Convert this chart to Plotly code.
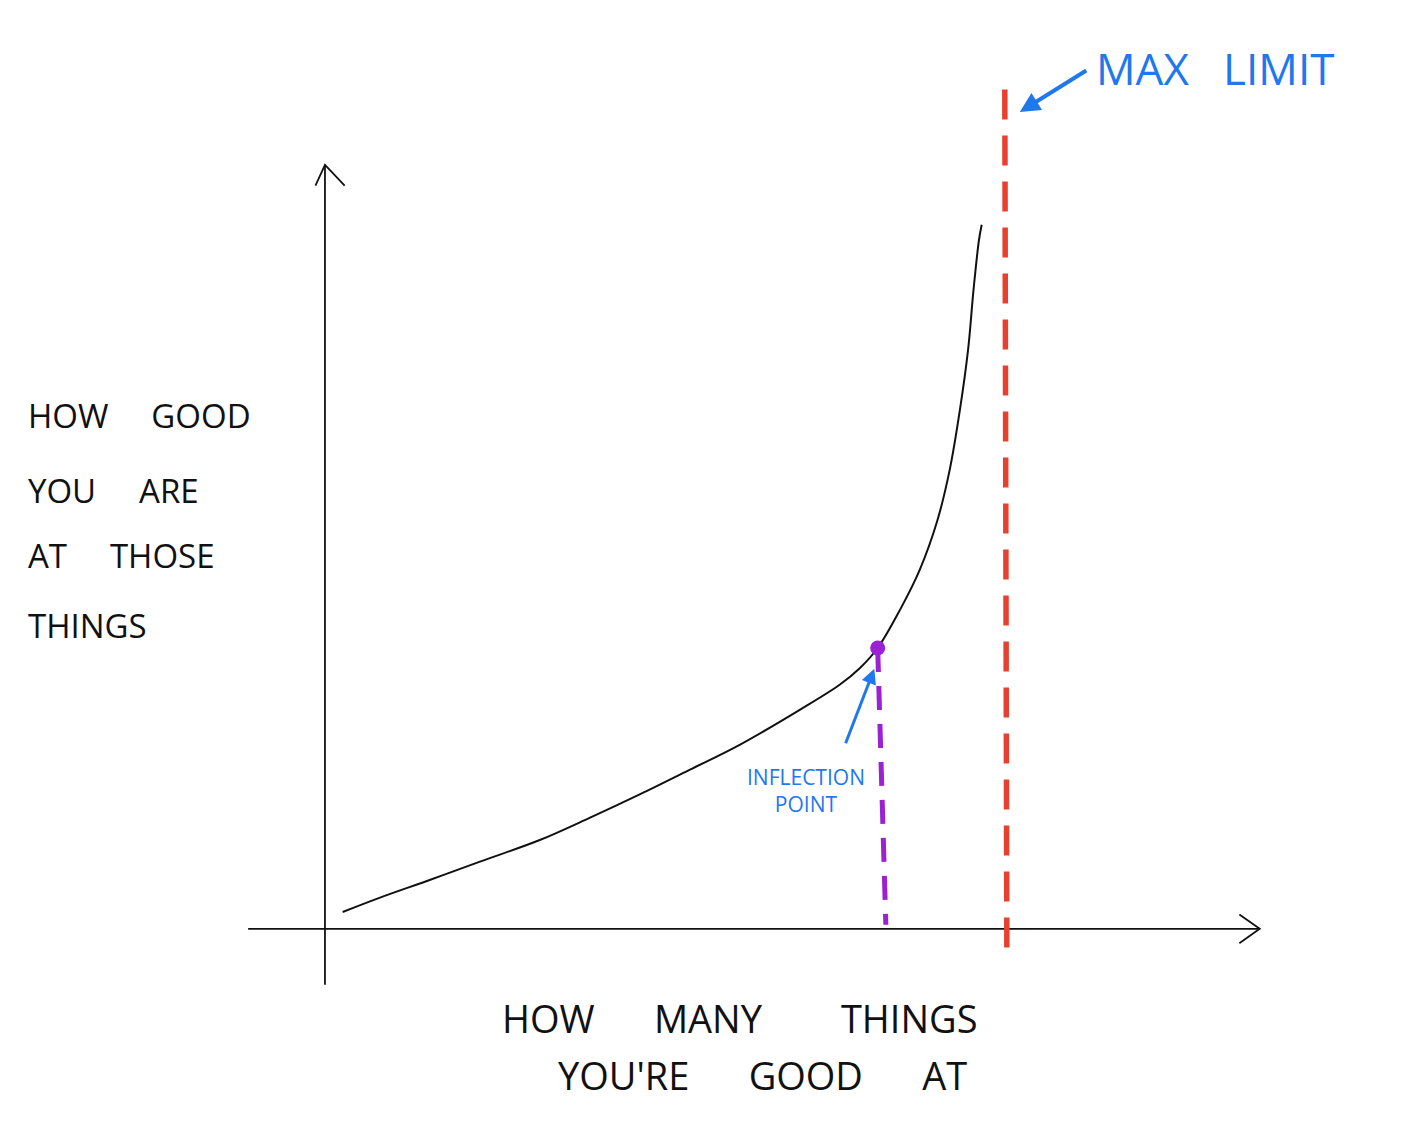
import plotly.graph_objects as go

# ---- data (x = things you're good at, y = how good) ----
curve_x = [0.26, 0.81, 1.54, 2.28, 3.16, 3.90, 4.63, 5.37, 6.10, 6.99, 7.57, 7.87, 8.13,
           8.46, 8.75, 9.01, 9.19, 9.34, 9.46, 9.54, 9.62, 9.66]
curve_y = [0.21, 0.39, 0.61, 0.84, 1.11, 1.39, 1.68, 1.99, 2.30, 2.74, 3.05, 3.26, 3.51,
           3.99, 4.49, 5.11, 5.74, 6.49, 7.24, 7.99, 8.61, 8.80]
inflection_x = [8.13]
inflection_y = [3.51]
inflection_drop_x = [8.13, 8.25]
inflection_drop_y = [3.51, 0.05]
max_limit_x = [10.00, 10.03]
max_limit_y = [10.49, -0.26]

x_axis_extent = [-1.13, 13.75]
y_axis_extent = [-0.70, 9.55]

y_label_lines = ["HOW     GOOD", "YOU     ARE", "AT     THOSE", "THINGS"]
x_label_lines = ["HOW      MANY        THINGS", "YOU'RE      GOOD      AT"]

BLUE = "#1f78ee"
RED = "#e8402e"
PURPLE = "#9b22d4"
INK = "#111111"
FONT = "Open Sans"

W, H = 1410, 1140
X_RANGE = [-4.78, 15.96]
Y_RANGE = [-2.64, 11.61]

fig = go.Figure()

# axes (hand-drawn style)
fig.add_trace(go.Scatter(x=x_axis_extent, y=[0, 0], mode="lines",
                         line=dict(color=INK, width=1.8), hoverinfo="skip"))
fig.add_trace(go.Scatter(x=[0, 0], y=y_axis_extent, mode="lines",
                         line=dict(color=INK, width=1.8), hoverinfo="skip"))
# chevron arrowheads
ax_end = x_axis_extent[1]
fig.add_trace(go.Scatter(x=[ax_end - 0.30, ax_end, ax_end - 0.30], y=[0.18, 0, -0.18],
                         mode="lines", line=dict(color=INK, width=1.8), hoverinfo="skip"))
ay_end = y_axis_extent[1]
fig.add_trace(go.Scatter(x=[-0.14, 0, 0.29], y=[ay_end - 0.26, ay_end, ay_end - 0.26],
                         mode="lines", line=dict(color=INK, width=1.8), hoverinfo="skip"))

# max limit (red dashed)
fig.add_trace(go.Scatter(x=max_limit_x, y=max_limit_y, mode="lines",
                         line=dict(color=RED, width=5.5, dash="30px,16px"), hoverinfo="skip"))
# inflection drop line (purple dashed)
fig.add_trace(go.Scatter(x=inflection_drop_x, y=inflection_drop_y, mode="lines",
                         line=dict(color=PURPLE, width=5, dash="24px,14px"), hoverinfo="skip"))

# curve
fig.add_trace(go.Scatter(x=curve_x, y=curve_y, mode="lines",
                         line=dict(color=INK, width=2, shape="spline", smoothing=1.0),
                         hoverinfo="skip"))
# inflection point
fig.add_trace(go.Scatter(x=inflection_x, y=inflection_y, mode="markers",
                         marker=dict(color=PURPLE, size=15), hoverinfo="skip"))

annotations = []
# arrow to max limit
annotations.append(dict(x=10.22, y=10.21, ax=11.22, ay=10.74, xref="x", yref="y",
                        axref="x", ayref="y", text="", showarrow=True,
                        arrowhead=2, arrowsize=1.0, arrowwidth=4, arrowcolor=BLUE))
# arrow to inflection point
annotations.append(dict(x=8.08, y=3.25, ax=7.65, ay=2.30, xref="x", yref="y",
                        axref="x", ayref="y", text="", showarrow=True,
                        arrowhead=2, arrowsize=1.0, arrowwidth=3, arrowcolor=BLUE))
annotations.append(dict(x=1215 / W, y=1 - 68 / H, xref="paper", yref="paper",
                        xanchor="center", yanchor="middle",
                        text="MAX   LIMIT", showarrow=False,
                        font=dict(family=FONT, size=44, color=BLUE)))
annotations.append(dict(x=806 / W, y=1 - 790 / H, xref="paper", yref="paper",
                        xanchor="center", yanchor="middle",
                        text="INFLECTION<br>POINT", showarrow=False,
                        font=dict(family=FONT, size=21, color=BLUE)))

y_label_py = [415, 490, 555, 625]
for line, py in zip(y_label_lines, y_label_py):
    annotations.append(dict(x=26 / W, y=1 - py / H, xref="paper", yref="paper",
                            xanchor="left", yanchor="middle", text=line, showarrow=False,
                            font=dict(family=FONT, size=33, color=INK)))
x_label_py = [1018, 1075]
x_label_px = [740, 762]
for line, px, py in zip(x_label_lines, x_label_px, x_label_py):
    annotations.append(dict(x=px / W, y=1 - py / H, xref="paper", yref="paper",
                            xanchor="center", yanchor="middle",
                            text=line, showarrow=False,
                            font=dict(family=FONT, size=38, color=INK)))

fig.update_layout(
    width=W, height=H,
    margin=dict(l=0, r=0, t=0, b=0),
    paper_bgcolor="white", plot_bgcolor="white",
    showlegend=False,
    xaxis=dict(range=X_RANGE, visible=False, fixedrange=True),
    yaxis=dict(range=Y_RANGE, visible=False, fixedrange=True),
    annotations=annotations,
)

fig.write_html("out.html", config={"displayModeBar": False},
               post_script="document.body.style.margin='0';")
